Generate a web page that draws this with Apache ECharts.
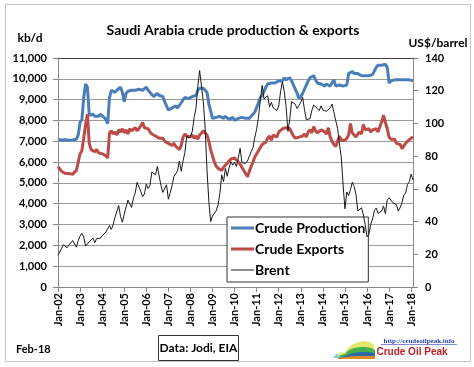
<!DOCTYPE html>
<html><head><meta charset="utf-8">
<script src="https://cdn.jsdelivr.net/npm/echarts/dist/echarts.min.js"></script>
<style>html,body{margin:0;padding:0;background:#fff}#c{width:474px;height:367px}</style>
</head><body><div id="c"></div>
<script>
// Categories: monthly Jan-02 .. Feb-18
const monthNames = ['Jan','Feb','Mar','Apr','May','Jun','Jul','Aug','Sep','Oct','Nov','Dec'];
const startYear = 2002, endYear = 2018, endMonthCount = 2;
const categories = [];
for (let y = startYear; y <= endYear; y++) {
  const n = (y === endYear) ? endMonthCount : 12;
  for (let m = 0; m < n; m++) categories.push(monthNames[m] + '-' + String(y).slice(2));
}

// Crude production, kb/d
const production = [
  7080,7050,7060,7040,7070,7060,7050,7070,7060,7080,7100,7300,
  7900,8050,9100,9750,9600,8250,8250,8300,8200,8250,8200,8300,
  8250,8150,8050,7850,9100,9450,9450,9350,9450,9500,9600,9350,
  8900,9300,9400,9450,9450,9500,9450,9500,9500,9550,9450,9500,
  9600,9450,9380,9250,9150,9200,9300,9200,9150,9150,8900,8700,
  8500,8450,8600,8550,8700,8600,8650,8850,9000,9100,9100,9050,
  9100,9150,9100,9200,9450,9550,9500,9550,9500,9350,8800,8450,
  8100,8050,8150,8100,8200,8150,8100,8200,8150,8050,8100,8150,
  8000,8050,8100,8050,8150,8100,8100,8150,8100,8200,8250,8400,
  8450,8850,9100,9200,9400,9600,9750,9700,9800,9750,9800,9850,
  9900,9950,9900,10050,9950,10000,10050,9900,9700,9500,9300,9050,
  9150,9300,9500,9700,9900,10050,10100,10150,9950,9800,9800,9750,
  9700,9650,9750,9700,9650,9700,9950,9650,9600,9700,9650,9650,
  9600,9700,10250,10300,10350,10250,10200,10250,10200,10150,10200,10150,
  10200,10150,10200,10200,10150,10550,10650,10650,10650,10600,10700,10550,
  9800,9900,9950,9950,9900,9950,10000,9950,9950,9950,9900,9950,
  9950,9900
];

// Crude exports, kb/d
const exportsKbd = [
  5780,5700,5550,5500,5450,5500,5450,5480,5420,5450,5600,6000,
  6400,6550,6600,7800,8300,6900,6600,6550,6500,6600,6450,6500,
  6400,6450,6300,6200,7400,7500,7350,7450,7300,7550,7450,7600,
  7400,7550,7350,7600,7500,7450,7650,7500,7600,7550,7900,7650,
  7700,7600,7450,7350,7400,7250,7300,7150,7100,7150,7000,6950,
  6900,6850,6800,6900,6750,6700,6600,6800,7200,7350,7250,7300,
  7200,7300,7150,7250,7100,7300,7400,7500,7550,7300,7000,6600,
  6300,6000,5800,5700,5650,5600,5750,5850,5950,6050,6150,6100,
  6200,6100,6050,5900,5850,5600,5450,5300,5550,5800,6000,6250,
  6400,6550,6700,6850,6800,6950,7150,7250,7050,7300,7350,7200,
  7450,7500,7600,7550,7650,7700,7600,7650,7250,7150,7100,7200,
  7150,7250,7350,7200,7450,7550,7400,7700,7500,7400,7450,7550,
  7600,7450,7350,7650,7200,7000,6850,6750,6800,7250,7050,7100,
  7050,7150,7300,7850,7400,7300,7200,7350,7450,7350,7800,7550,
  7500,7600,7450,7550,7500,7600,7450,7700,7950,8250,7900,7600,
  7200,7100,7050,7100,6900,6950,6850,6650,6700,6900,7000,7050,
  7150,7200
];

// Brent, US$/barrel
const brent = [
  19.42,20.28,23.70,25.73,25.35,24.08,25.74,26.65,28.40,27.54,24.34,28.33,
  31.18,32.77,30.61,25.00,25.86,27.65,28.35,29.89,27.11,29.61,28.75,29.81,
  31.28,30.86,33.63,33.59,37.57,35.18,38.22,42.74,43.20,49.78,43.11,39.60,
  44.51,45.48,53.10,51.88,48.65,54.35,57.52,63.98,62.91,58.54,55.24,56.86,
  62.99,60.21,62.06,70.26,69.78,68.56,73.67,73.23,61.96,57.81,58.76,62.47,
  53.68,57.56,62.05,67.49,67.21,71.05,76.93,70.76,77.17,82.34,92.41,90.93,
  92.18,94.99,103.64,109.07,122.80,132.32,132.72,113.24,97.23,71.58,52.45,39.95,
  43.44,43.32,46.54,50.18,57.30,68.61,64.44,72.51,67.65,72.77,76.66,74.46,
  76.17,73.75,78.83,84.82,75.95,74.76,75.58,77.04,77.84,82.67,85.28,91.45,
  96.52,103.72,114.64,123.26,114.99,113.83,116.97,110.22,112.83,109.55,110.77,107.87,
  110.69,119.33,125.45,119.75,110.34,95.16,102.62,113.36,112.86,111.71,109.06,109.49,
  112.96,116.05,108.47,102.25,102.56,102.92,107.93,111.28,111.60,109.08,107.79,110.76,
  108.12,108.90,107.48,107.76,109.54,111.80,106.77,101.61,97.09,87.43,79.44,62.34,
  47.76,58.10,55.89,59.52,64.08,61.48,56.56,46.52,47.62,48.43,44.27,38.01,
  30.70,32.18,38.21,41.58,46.74,48.25,44.95,45.84,46.57,49.52,44.73,53.31,
  54.58,54.87,51.59,52.31,50.33,46.37,48.48,51.70,56.15,57.51,62.71,64.37,
  69.08,65.32
];

const seriesNames = ['Crude Production','Crude Exports','Brent'];
const FONT = 'Lato';
const gridColors = ['#9a9a9a','#9a9a9a','#9a9a9a','#9a9a9a','#9a9a9a','#9a9a9a','#9a9a9a','#9a9a9a','#9a9a9a','#9a9a9a','#9a9a9a','#404040'];
// legend line-sample icons (thick band / thin band inside a 23x14 box)
const thickIcon = 'path://M0,0L23,0L23,0.01Z M0,5.5L23,5.5L23,8.5L0,8.5Z M0,14L23,14L23,13.99Z';
const thinIcon = 'path://M0,0L23,0L23,0.01Z M0,6.5L23,6.5L23,7.5L0,7.5Z M0,14L23,14L23,13.99Z';

const chart = echarts.init(document.getElementById('c'), null, {renderer:'canvas'});
chart.setOption({
  animation: false,
  backgroundColor: '#fff',
  grid: {left: 58, right: 61, top: 58, bottom: 80, containLabel: false, outerBoundsMode: 'none'},
  xAxis: {
    type: 'category', data: categories, boundaryGap: false,
    axisLine: {show: true, lineStyle: {color: '#888', width: 1}},
    axisTick: {show: true, interval: 11, length: 5, lineStyle: {color: '#888'}},
    axisLabel: {interval: 11, rotate: 90, margin: 6, color: '#000', fontFamily: FONT, fontWeight: 'bold', fontSize: 11},
    splitLine: {show: false}
  },
  yAxis: [{
    type: 'value', min: 0, max: 11000, interval: 1000, position: 'left',
    axisLine: {show: true, lineStyle: {color: '#888'}},
    axisTick: {show: true, length: 5, lineStyle: {color: '#888'}},
    axisLabel: {margin: 11, color: '#000', fontFamily: FONT, fontWeight: 'bold', fontSize: 11,
      formatter: v => v.toLocaleString('en-US')},
    splitLine: {show: true, lineStyle: {color: gridColors, width: 1}}
  }, {
    type: 'value', min: 0, max: 140, interval: 20, position: 'right',
    axisLine: {show: true, lineStyle: {color: '#888'}},
    axisTick: {show: true, length: 5, lineStyle: {color: '#888'}},
    axisLabel: {margin: 12, color: '#000', fontFamily: FONT, fontWeight: 'bold', fontSize: 11},
    splitLine: {show: false}
  }],
  legend: {
    orient: 'vertical', left: 227, top: 217,
    padding: [4, 3, 5, 4], itemGap: 7, itemWidth: 23, itemHeight: 14,
    backgroundColor: '#fff', borderColor: '#333', borderWidth: 1,
    itemStyle: {borderWidth: 0},
    textStyle: {fontFamily: FONT, fontWeight: 'bold', fontSize: 14, color: '#000', padding: [0, 0, 0, -4]},
    data: [
      {name: seriesNames[0], icon: thickIcon},
      {name: seriesNames[1], icon: thickIcon},
      {name: seriesNames[2], icon: thinIcon}
    ]
  },
  series: [
    {name: seriesNames[0], type: 'line', data: production, yAxisIndex: 0, symbol: 'none', showSymbol: false,
     lineStyle: {color: '#4a7ebb', width: 3}, itemStyle: {color: '#4a7ebb'}, z: 2},
    {name: seriesNames[1], type: 'line', data: exportsKbd, yAxisIndex: 0, symbol: 'none', showSymbol: false,
     lineStyle: {color: '#be4b48', width: 3}, itemStyle: {color: '#be4b48'}, z: 3},
    {name: seriesNames[2], type: 'line', data: brent, yAxisIndex: 1, symbol: 'none', showSymbol: false,
     lineStyle: {color: '#1a1a1a', width: 1}, itemStyle: {color: '#1a1a1a'}, z: 4}
  ],
  graphic: [
    {type: 'rect', shape: {x: 5.5, y: 4.5, width: 465, height: 357}, style: {fill: 'none', stroke: '#c4c4c4', lineWidth: 1}, silent: true, z: -10},
    {type: 'text', x: 233, y: 30, style: {text: 'Saudi Arabia crude production & exports', fontFamily: FONT, fontWeight: 'bold', fontSize: 14, fill: '#000', align: 'center', verticalAlign: 'middle'}},
    {type: 'text', x: 30, y: 38, style: {text: 'kb/d', fontFamily: FONT, fontWeight: 'bold', fontSize: 12, fill: '#000', align: 'center', verticalAlign: 'middle'}},
    {type: 'text', x: 438, y: 43, style: {text: 'US$/barrel', fontFamily: FONT, fontWeight: 'bold', fontSize: 12, fill: '#000', align: 'center', verticalAlign: 'middle'}},
    {type: 'rect', shape: {x: 158.5, y: 335.5, width: 80, height: 25}, style: {fill: '#fff', stroke: '#333', lineWidth: 1}},
    {type: 'text', x: 198.5, y: 348, style: {text: 'Data: Jodi, EIA', fontFamily: FONT, fontWeight: 'bold', fontSize: 12, fill: '#000', align: 'center', verticalAlign: 'middle'}},
    {type: 'text', x: 16, y: 349, style: {text: 'Feb-18', fontFamily: FONT, fontWeight: 'bold', fontSize: 11, fill: '#000', align: 'left', verticalAlign: 'middle'}},
    // logo
    {type: 'polygon', shape: {points: [[338,358],[340,352],[344,353],[348,348],[352,345],[358,342],[364,341],[370,342],[374,345],[375,358]]}, style: {fill: '#e4e86a'}},
    {type: 'polygon', shape: {points: [[338,358],[341,355],[345,354],[349,350],[354,348],[360,347],[366,347],[371,348],[375,350],[375,358]]}, style: {fill: '#46b04c'}},
    {type: 'polygon', shape: {points: [[338,358],[342,357],[347,355],[353,353],[360,352],[367,352],[375,353],[375,358]]}, style: {fill: '#2a6aa8'}},
    {type: 'polygon', shape: {points: [[338,358],[345,357],[355,356],[365,356],[375,356],[375,359],[338,359]]}, style: {fill: '#e08a28'}},
    {type: 'polygon', shape: {points: [[333,358],[336,354],[340,355],[338,358]]}, style: {fill: '#7fd0d8'}},
    {type: 'text', x: 419, y: 341, style: {text: 'http://crudeoilpeak.info', fontFamily: 'Liberation Serif', fontWeight: 'bold', fontSize: 7, fill: '#2a3fb8', align: 'center', verticalAlign: 'middle'}},
    {type: 'line', shape: {x1: 381, y1: 344.5, x2: 457, y2: 344.5}, style: {stroke: '#2a3fb8', lineWidth: 0.6}},
    {type: 'text', x: 412, y: 352, style: {text: 'Crude Oil Peak', fontFamily: 'Liberation Sans', fontWeight: 'bold', fontSize: 10, fill: '#c0202a', align: 'center', verticalAlign: 'middle'}}
  ]
});
</script>
</body></html>
